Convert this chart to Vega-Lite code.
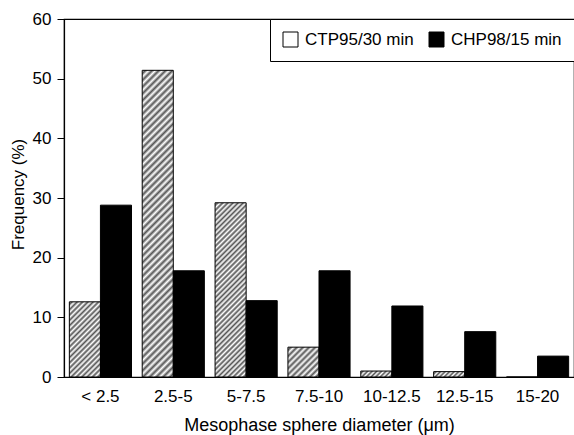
{
  "$schema": "https://vega.github.io/schema/vega-lite/v6.json",
  "width": 510,
  "height": 358,
  "autosize": {"type": "none"},
  "padding": {"left": 64, "top": 19, "right": 0, "bottom": 58},
  "background": "white",
  "config": {"font": "Liberation Sans", "view": {"stroke": "black", "strokeWidth": 1.2}},
  "data": {"values": [
    {"cat": "< 2.5", "series": "CTP95/30 min", "value": 12.6},
    {"cat": "2.5-5", "series": "CTP95/30 min", "value": 51.4},
    {"cat": "5-7.5", "series": "CTP95/30 min", "value": 29.2},
    {"cat": "7.5-10", "series": "CTP95/30 min", "value": 5.0},
    {"cat": "10-12.5", "series": "CTP95/30 min", "value": 1.0},
    {"cat": "12.5-15", "series": "CTP95/30 min", "value": 0.9},
    {"cat": "15-20", "series": "CTP95/30 min", "value": 0},
    {"cat": "< 2.5", "series": "CHP98/15 min", "value": 28.8},
    {"cat": "2.5-5", "series": "CHP98/15 min", "value": 17.8},
    {"cat": "5-7.5", "series": "CHP98/15 min", "value": 12.8},
    {"cat": "7.5-10", "series": "CHP98/15 min", "value": 17.8},
    {"cat": "10-12.5", "series": "CHP98/15 min", "value": 11.9},
    {"cat": "12.5-15", "series": "CHP98/15 min", "value": 7.6},
    {"cat": "15-20", "series": "CHP98/15 min", "value": 3.5}
  ]},
  "mark": {"type": "bar", "stroke": "black", "strokeWidth": 1},
  "encoding": {
    "x": {
      "field": "cat", "type": "nominal",
      "sort": ["< 2.5", "2.5-5", "5-7.5", "7.5-10", "10-12.5", "12.5-15", "15-20"],
      "scale": {"paddingInner": 0.147, "paddingOuter": 0.0735},
      "axis": {
        "title": "Mesophase sphere diameter (μm)", "labelAngle": 0, "ticks": false, "labelPadding": 11,
        "labelFontSize": 17, "labelColor": "black", "labelOverlap": false,
        "titleFontSize": 18, "titleFontWeight": "normal", "titleColor": "black",
        "titleX": 255, "titleY": 53, "titleBaseline": "alphabetic", "titleAlign": "center",
        "domainColor": "black", "domainWidth": 1.2, "grid": false
      }
    },
    "xOffset": {"field": "series", "type": "nominal", "sort": ["CTP95/30 min", "CHP98/15 min"], "scale": {"paddingInner": 0, "paddingOuter": 0}},
    "y": {
      "field": "value", "type": "quantitative",
      "scale": {"domain": [0, 60]},
      "axis": {
        "title": "Frequency (%)", "values": [0, 10, 20, 30, 40, 50, 60], "grid": false,
        "tickSize": 7, "tickColor": "black", "tickWidth": 1, "labelPadding": 6,
        "labelFontSize": 17, "labelColor": "black",
        "titleFontSize": 17, "titleFontWeight": "normal", "titleColor": "black",
        "titleX": -41, "titleY": 175, "titleBaseline": "alphabetic", "titleAlign": "center", "titleAngle": -90,
        "domainColor": "black", "domainWidth": 1.2
      }
    },
    "fill": {
      "field": "series", "type": "nominal",
      "scale": {"domain": ["CTP95/30 min", "CHP98/15 min"], "range": ["#ffffff", "#000000"]},
      "legend": {
        "orient": "none", "legendX": 206, "legendY": 0, "direction": "horizontal", "title": null,
        "strokeColor": "black", "fillColor": "white", "padding": 12,
        "symbolType": "square", "symbolSize": 225, "symbolStrokeColor": "black", "symbolStrokeWidth": 1,
        "labelFontSize": 17, "labelColor": "black", "labelOffset": 6, "columnPadding": 13, "labelLimit": 0,
        "encode": {"symbols": {"update": {
          "stroke": {"value": "black"},
          "strokeWidth": {"value": 1},
          "fill": {"signal": "datum.value === 'CTP95/30 min' ? {gradient: 'linear', x1: 0, y1: 0, x2: 1, y2: 1, stops: [{offset: 0, color: '#fff'}, {offset: 0.1, color: '#555'}, {offset: 0.2, color: '#fff'}, {offset: 0.3, color: '#555'}, {offset: 0.4, color: '#fff'}, {offset: 0.5, color: '#555'}, {offset: 0.6, color: '#fff'}, {offset: 0.7, color: '#555'}, {offset: 0.8, color: '#fff'}, {offset: 0.9, color: '#555'}, {offset: 1, color: '#fff'}]} : 'black'"}
        }}}
      },
      "condition": [
        {"test": "datum.series === 'CTP95/30 min' && datum.cat === '< 2.5'", "value": {"gradient": "linear", "x1": 0, "y1": 0, "x2": 0.4989, "y2": 1.2074, "stops": [
          {"offset": 0, "color": "#fff"}, {"offset": 0.025, "color": "#555"}, {"offset": 0.05, "color": "#fff"}, {"offset": 0.075, "color": "#555"},
          {"offset": 0.1, "color": "#fff"}, {"offset": 0.125, "color": "#555"}, {"offset": 0.15, "color": "#fff"}, {"offset": 0.175, "color": "#555"},
          {"offset": 0.2, "color": "#fff"}, {"offset": 0.225, "color": "#555"}, {"offset": 0.25, "color": "#fff"}, {"offset": 0.275, "color": "#555"},
          {"offset": 0.3, "color": "#fff"}, {"offset": 0.325, "color": "#555"}, {"offset": 0.35, "color": "#fff"}, {"offset": 0.375, "color": "#555"},
          {"offset": 0.4, "color": "#fff"}, {"offset": 0.425, "color": "#555"}, {"offset": 0.45, "color": "#fff"}, {"offset": 0.475, "color": "#555"},
          {"offset": 0.5, "color": "#fff"}, {"offset": 0.525, "color": "#555"}, {"offset": 0.55, "color": "#fff"}, {"offset": 0.575, "color": "#555"},
          {"offset": 0.6, "color": "#fff"}, {"offset": 0.625, "color": "#555"}, {"offset": 0.65, "color": "#fff"}, {"offset": 0.675, "color": "#555"},
          {"offset": 0.7, "color": "#fff"}, {"offset": 0.725, "color": "#555"}, {"offset": 0.75, "color": "#fff"}, {"offset": 0.775, "color": "#555"},
          {"offset": 0.8, "color": "#fff"}, {"offset": 0.825, "color": "#555"}, {"offset": 0.85, "color": "#fff"}, {"offset": 0.875, "color": "#555"},
          {"offset": 0.9, "color": "#fff"}, {"offset": 0.925, "color": "#555"}, {"offset": 0.95, "color": "#fff"}, {"offset": 0.975, "color": "#555"},
          {"offset": 1, "color": "#fff"}
        ]}},
        {"test": "datum.series === 'CTP95/30 min' && datum.cat === '2.5-5'", "value": {"gradient": "linear", "x1": 0, "y1": 0, "x2": 0.11044, "y2": 1.0902, "stops": [
          {"offset": 0, "color": "#fff"}, {"offset": 0.01, "color": "#555"}, {"offset": 0.02, "color": "#fff"}, {"offset": 0.03, "color": "#555"}, {"offset": 0.04, "color": "#fff"}, {"offset": 0.05, "color": "#555"}, {"offset": 0.06, "color": "#fff"}, {"offset": 0.07, "color": "#555"}, {"offset": 0.08, "color": "#fff"}, {"offset": 0.09, "color": "#555"},
          {"offset": 0.1, "color": "#fff"}, {"offset": 0.11, "color": "#555"}, {"offset": 0.12, "color": "#fff"}, {"offset": 0.13, "color": "#555"}, {"offset": 0.14, "color": "#fff"}, {"offset": 0.15, "color": "#555"}, {"offset": 0.16, "color": "#fff"}, {"offset": 0.17, "color": "#555"}, {"offset": 0.18, "color": "#fff"}, {"offset": 0.19, "color": "#555"},
          {"offset": 0.2, "color": "#fff"}, {"offset": 0.21, "color": "#555"}, {"offset": 0.22, "color": "#fff"}, {"offset": 0.23, "color": "#555"}, {"offset": 0.24, "color": "#fff"}, {"offset": 0.25, "color": "#555"}, {"offset": 0.26, "color": "#fff"}, {"offset": 0.27, "color": "#555"}, {"offset": 0.28, "color": "#fff"}, {"offset": 0.29, "color": "#555"},
          {"offset": 0.3, "color": "#fff"}, {"offset": 0.31, "color": "#555"}, {"offset": 0.32, "color": "#fff"}, {"offset": 0.33, "color": "#555"}, {"offset": 0.34, "color": "#fff"}, {"offset": 0.35, "color": "#555"}, {"offset": 0.36, "color": "#fff"}, {"offset": 0.37, "color": "#555"}, {"offset": 0.38, "color": "#fff"}, {"offset": 0.39, "color": "#555"},
          {"offset": 0.4, "color": "#fff"}, {"offset": 0.41, "color": "#555"}, {"offset": 0.42, "color": "#fff"}, {"offset": 0.43, "color": "#555"}, {"offset": 0.44, "color": "#fff"}, {"offset": 0.45, "color": "#555"}, {"offset": 0.46, "color": "#fff"}, {"offset": 0.47, "color": "#555"}, {"offset": 0.48, "color": "#fff"}, {"offset": 0.49, "color": "#555"},
          {"offset": 0.5, "color": "#fff"}, {"offset": 0.51, "color": "#555"}, {"offset": 0.52, "color": "#fff"}, {"offset": 0.53, "color": "#555"}, {"offset": 0.54, "color": "#fff"}, {"offset": 0.55, "color": "#555"}, {"offset": 0.56, "color": "#fff"}, {"offset": 0.57, "color": "#555"}, {"offset": 0.58, "color": "#fff"}, {"offset": 0.59, "color": "#555"},
          {"offset": 0.6, "color": "#fff"}, {"offset": 0.61, "color": "#555"}, {"offset": 0.62, "color": "#fff"}, {"offset": 0.63, "color": "#555"}, {"offset": 0.64, "color": "#fff"}, {"offset": 0.65, "color": "#555"}, {"offset": 0.66, "color": "#fff"}, {"offset": 0.67, "color": "#555"}, {"offset": 0.68, "color": "#fff"}, {"offset": 0.69, "color": "#555"},
          {"offset": 0.7, "color": "#fff"}, {"offset": 0.71, "color": "#555"}, {"offset": 0.72, "color": "#fff"}, {"offset": 0.73, "color": "#555"}, {"offset": 0.74, "color": "#fff"}, {"offset": 0.75, "color": "#555"}, {"offset": 0.76, "color": "#fff"}, {"offset": 0.77, "color": "#555"}, {"offset": 0.78, "color": "#fff"}, {"offset": 0.79, "color": "#555"},
          {"offset": 0.8, "color": "#fff"}, {"offset": 0.81, "color": "#555"}, {"offset": 0.82, "color": "#fff"}, {"offset": 0.83, "color": "#555"}, {"offset": 0.84, "color": "#fff"}, {"offset": 0.85, "color": "#555"}, {"offset": 0.86, "color": "#fff"}, {"offset": 0.87, "color": "#555"}, {"offset": 0.88, "color": "#fff"}, {"offset": 0.89, "color": "#555"},
          {"offset": 0.9, "color": "#fff"}, {"offset": 0.91, "color": "#555"}, {"offset": 0.92, "color": "#fff"}, {"offset": 0.93, "color": "#555"}, {"offset": 0.94, "color": "#fff"}, {"offset": 0.95, "color": "#555"}, {"offset": 0.96, "color": "#fff"}, {"offset": 0.97, "color": "#555"}, {"offset": 0.98, "color": "#fff"}, {"offset": 0.99, "color": "#555"},
          {"offset": 1, "color": "#fff"}
        ]}},
        {"test": "datum.series === 'CTP95/30 min' && datum.cat === '5-7.5'", "value": {"gradient": "linear", "x1": 0, "y1": 0, "x2": 0.2037, "y2": 1.1422, "stops": [
          {"offset": 0, "color": "#fff"}, {"offset": 0.0125, "color": "#555"}, {"offset": 0.025, "color": "#fff"}, {"offset": 0.0375, "color": "#555"}, {"offset": 0.05, "color": "#fff"}, {"offset": 0.0625, "color": "#555"}, {"offset": 0.075, "color": "#fff"}, {"offset": 0.0875, "color": "#555"},
          {"offset": 0.1, "color": "#fff"}, {"offset": 0.1125, "color": "#555"}, {"offset": 0.125, "color": "#fff"}, {"offset": 0.1375, "color": "#555"}, {"offset": 0.15, "color": "#fff"}, {"offset": 0.1625, "color": "#555"}, {"offset": 0.175, "color": "#fff"}, {"offset": 0.1875, "color": "#555"},
          {"offset": 0.2, "color": "#fff"}, {"offset": 0.2125, "color": "#555"}, {"offset": 0.225, "color": "#fff"}, {"offset": 0.2375, "color": "#555"}, {"offset": 0.25, "color": "#fff"}, {"offset": 0.2625, "color": "#555"}, {"offset": 0.275, "color": "#fff"}, {"offset": 0.2875, "color": "#555"},
          {"offset": 0.3, "color": "#fff"}, {"offset": 0.3125, "color": "#555"}, {"offset": 0.325, "color": "#fff"}, {"offset": 0.3375, "color": "#555"}, {"offset": 0.35, "color": "#fff"}, {"offset": 0.3625, "color": "#555"}, {"offset": 0.375, "color": "#fff"}, {"offset": 0.3875, "color": "#555"},
          {"offset": 0.4, "color": "#fff"}, {"offset": 0.4125, "color": "#555"}, {"offset": 0.425, "color": "#fff"}, {"offset": 0.4375, "color": "#555"}, {"offset": 0.45, "color": "#fff"}, {"offset": 0.4625, "color": "#555"}, {"offset": 0.475, "color": "#fff"}, {"offset": 0.4875, "color": "#555"},
          {"offset": 0.5, "color": "#fff"}, {"offset": 0.5125, "color": "#555"}, {"offset": 0.525, "color": "#fff"}, {"offset": 0.5375, "color": "#555"}, {"offset": 0.55, "color": "#fff"}, {"offset": 0.5625, "color": "#555"}, {"offset": 0.575, "color": "#fff"}, {"offset": 0.5875, "color": "#555"},
          {"offset": 0.6, "color": "#fff"}, {"offset": 0.6125, "color": "#555"}, {"offset": 0.625, "color": "#fff"}, {"offset": 0.6375, "color": "#555"}, {"offset": 0.65, "color": "#fff"}, {"offset": 0.6625, "color": "#555"}, {"offset": 0.675, "color": "#fff"}, {"offset": 0.6875, "color": "#555"},
          {"offset": 0.7, "color": "#fff"}, {"offset": 0.7125, "color": "#555"}, {"offset": 0.725, "color": "#fff"}, {"offset": 0.7375, "color": "#555"}, {"offset": 0.75, "color": "#fff"}, {"offset": 0.7625, "color": "#555"}, {"offset": 0.775, "color": "#fff"}, {"offset": 0.7875, "color": "#555"},
          {"offset": 0.8, "color": "#fff"}, {"offset": 0.8125, "color": "#555"}, {"offset": 0.825, "color": "#fff"}, {"offset": 0.8375, "color": "#555"}, {"offset": 0.85, "color": "#fff"}, {"offset": 0.8625, "color": "#555"}, {"offset": 0.875, "color": "#fff"}, {"offset": 0.8875, "color": "#555"},
          {"offset": 0.9, "color": "#fff"}, {"offset": 0.9125, "color": "#555"}, {"offset": 0.925, "color": "#fff"}, {"offset": 0.9375, "color": "#555"}, {"offset": 0.95, "color": "#fff"}, {"offset": 0.9625, "color": "#555"}, {"offset": 0.975, "color": "#fff"}, {"offset": 0.9875, "color": "#555"},
          {"offset": 1, "color": "#fff"}
        ]}},
        {"test": "datum.series === 'CTP95/30 min' && datum.cat === '7.5-10'", "value": {"gradient": "linear", "x1": 0, "y1": 0, "x2": 1.0199, "y2": 0.9793, "stops": [
          {"offset": 0, "color": "#fff"}, {"offset": 0.05, "color": "#555"}, {"offset": 0.1, "color": "#fff"}, {"offset": 0.15, "color": "#555"}, {"offset": 0.2, "color": "#fff"}, {"offset": 0.25, "color": "#555"}, {"offset": 0.3, "color": "#fff"}, {"offset": 0.35, "color": "#555"}, {"offset": 0.4, "color": "#fff"}, {"offset": 0.45, "color": "#555"},
          {"offset": 0.5, "color": "#fff"}, {"offset": 0.55, "color": "#555"}, {"offset": 0.6, "color": "#fff"}, {"offset": 0.65, "color": "#555"}, {"offset": 0.7, "color": "#fff"}, {"offset": 0.75, "color": "#555"}, {"offset": 0.8, "color": "#fff"}, {"offset": 0.85, "color": "#555"}, {"offset": 0.9, "color": "#fff"}, {"offset": 0.95, "color": "#555"},
          {"offset": 1, "color": "#fff"}
        ]}},
        {"test": "datum.series === 'CTP95/30 min' && datum.cat === '10-12.5'", "value": {"gradient": "linear", "x1": 0, "y1": 0, "x2": 1.1498, "y2": 0.2209, "stops": [
          {"offset": 0, "color": "#fff"}, {"offset": 0.0625, "color": "#555"}, {"offset": 0.125, "color": "#fff"}, {"offset": 0.1875, "color": "#555"}, {"offset": 0.25, "color": "#fff"}, {"offset": 0.3125, "color": "#555"}, {"offset": 0.375, "color": "#fff"}, {"offset": 0.4375, "color": "#555"},
          {"offset": 0.5, "color": "#fff"}, {"offset": 0.5625, "color": "#555"}, {"offset": 0.625, "color": "#fff"}, {"offset": 0.6875, "color": "#555"}, {"offset": 0.75, "color": "#fff"}, {"offset": 0.8125, "color": "#555"}, {"offset": 0.875, "color": "#fff"}, {"offset": 0.9375, "color": "#555"},
          {"offset": 1, "color": "#fff"}
        ]}},
        {"test": "datum.series === 'CTP95/30 min' && datum.cat === '12.5-15'", "value": {"gradient": "linear", "x1": 0, "y1": 0, "x2": 1.1389, "y2": 0.1968, "stops": [
          {"offset": 0, "color": "#fff"}, {"offset": 0.0625, "color": "#555"}, {"offset": 0.125, "color": "#fff"}, {"offset": 0.1875, "color": "#555"}, {"offset": 0.25, "color": "#fff"}, {"offset": 0.3125, "color": "#555"}, {"offset": 0.375, "color": "#fff"}, {"offset": 0.4375, "color": "#555"},
          {"offset": 0.5, "color": "#fff"}, {"offset": 0.5625, "color": "#555"}, {"offset": 0.625, "color": "#fff"}, {"offset": 0.6875, "color": "#555"}, {"offset": 0.75, "color": "#fff"}, {"offset": 0.8125, "color": "#555"}, {"offset": 0.875, "color": "#fff"}, {"offset": 0.9375, "color": "#555"},
          {"offset": 1, "color": "#fff"}
        ]}}
      ]
    }
  }
}
